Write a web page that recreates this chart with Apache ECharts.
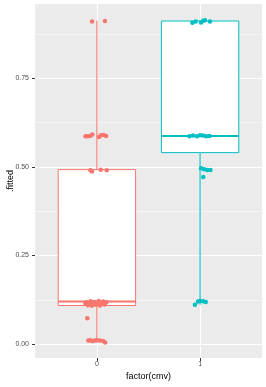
<!DOCTYPE html>
<html>
<head>
<meta charset="utf-8">
<script src="https://cdn.jsdelivr.net/npm/echarts@6/dist/echarts.min.js"></script>
<style>
  html, body { margin: 0; padding: 0; background: #fff; }
  #chart { width: 266px; height: 387px; }
</style>
</head>
<body>
<div id="chart"></div>
<script>
// groups of factor(cmv)
var categories = ['0', '1'];
var colors = ['#F8766D', '#00BFC4'];

// box stats: [lower whisker, Q1, median, Q3, upper whisker]
var boxStats = [
  [0.005, 0.109, 0.120, 0.492, 0.912],
  [0.111, 0.540, 0.587, 0.911, 0.913]
];

// jittered points: [x offset from group, .fitted]
var points0 = [
  [-0.047, 0.910], [0.078, 0.911],
  [-0.110, 0.586], [-0.090, 0.586], [-0.065, 0.587], [-0.045, 0.591],
  [0.020, 0.584], [0.040, 0.589], [0.065, 0.590], [0.090, 0.587],
  [-0.062, 0.490], [-0.048, 0.487], [0.037, 0.492], [0.095, 0.490],
  [-0.112, 0.114], [-0.100, 0.118], [-0.088, 0.110], [-0.075, 0.116],
  [-0.062, 0.121], [-0.050, 0.108], [-0.038, 0.113], [-0.025, 0.119],
  [-0.010, 0.111], [0.005, 0.117], [0.018, 0.122], [0.030, 0.109],
  [0.045, 0.115], [0.060, 0.120], [0.075, 0.112], [0.092, 0.118],
  [-0.093, 0.073],
  [-0.083, 0.010], [-0.065, 0.011], [-0.045, 0.009], [-0.020, 0.010],
  [0.000, 0.011], [0.030, 0.010], [0.060, 0.009], [0.080, 0.005]
];
var points1 = [
  [-0.075, 0.906], [-0.043, 0.910], [0.009, 0.907], [0.030, 0.912],
  [0.047, 0.913], [0.096, 0.910],
  [-0.103, 0.586], [-0.069, 0.588], [-0.030, 0.586], [0.000, 0.589],
  [0.028, 0.588], [0.057, 0.586], [0.091, 0.587],
  [0.010, 0.496], [0.040, 0.493], [0.070, 0.491], [0.100, 0.491],
  [0.031, 0.471],
  [-0.020, 0.120], [0.000, 0.122], [0.030, 0.121], [0.055, 0.119],
  [-0.050, 0.111]
];

var yTicks = [0, 0.25, 0.5, 0.75];
var yMinor = [0.125, 0.375, 0.625, 0.875];
var xTicks = [0, 1];

var chart = echarts.init(document.getElementById('chart'));

var boxData = boxStats.map(function (s, i) { return [i].concat(s); });
function jitter(pts, g) {
  return pts.map(function (p) { return [g + p[0], p[1]]; });
}

function renderBox(params, api) {
  var x = api.value(0);
  var color = colors[x];
  var lo = api.coord([x, api.value(1)]);
  var q1 = api.coord([x, api.value(2)]);
  var med = api.coord([x, api.value(3)]);
  var q3 = api.coord([x, api.value(4)]);
  var hi = api.coord([x, api.value(5)]);
  var half = api.size([0.75, 0])[0] / 2;
  var cx = lo[0];
  var line = { stroke: color, lineWidth: 1.1 };
  return {
    type: 'group',
    children: [
      { type: 'line', shape: { x1: cx, y1: hi[1], x2: cx, y2: q3[1] }, style: line },
      { type: 'line', shape: { x1: cx, y1: q1[1], x2: cx, y2: lo[1] }, style: line },
      { type: 'rect', shape: { x: cx - half, y: q3[1], width: half * 2, height: q1[1] - q3[1] },
        style: { fill: '#fff', stroke: color, lineWidth: 1 } },
      { type: 'line', shape: { x1: cx - half, y1: med[1], x2: cx + half, y2: med[1] },
        style: { stroke: color, lineWidth: 2 } }
    ]
  };
}

var textFont = 'Liberation Sans, Arial, sans-serif';

chart.setOption({
  animation: false,
  grid: {
    left: 35, right: 4, top: 4, bottom: 29,
    outerBoundsMode: 'none', containLabel: false,
    show: true, backgroundColor: '#EBEBEB', borderWidth: 0
  },
  xAxis: {
    type: 'value', min: -0.6, max: 1.6,
    name: 'factor(cmv)', nameLocation: 'middle', nameGap: 14, nameMoveOverlap: false,
    nameTextStyle: { color: '#000', fontSize: 9, fontFamily: textFont, verticalAlign: 'top' },
    axisLine: { show: false, onZero: false },
    axisTick: { show: true, length: 3, customValues: xTicks, lineStyle: { color: '#333' } },
    axisLabel: {
      customValues: xTicks, margin: 3, color: '#4D4D4D', fontSize: 7, fontFamily: textFont,
      formatter: function (v) { return categories[Math.round(v)]; }
    },
    splitLine: { show: true, lineStyle: { color: '#fff', width: 1 } }
  },
  yAxis: [{
    type: 'value', min: -0.039, max: 0.959,
    name: '.fitted', nameLocation: 'middle', nameGap: 20, nameMoveOverlap: false,
    nameTextStyle: { color: '#000', fontSize: 9, fontFamily: textFont },
    axisLine: { show: false, onZero: false },
    axisTick: { show: true, length: 3, customValues: yTicks, lineStyle: { color: '#333' } },
    axisLabel: {
      customValues: yTicks, margin: 6, color: '#4D4D4D', fontSize: 7, fontFamily: textFont,
      formatter: function (v) { return v.toFixed(2); }
    },
    splitLine: { show: true, lineStyle: { color: '#fff', width: 1 } }
  }, {
    type: 'value', min: -0.039, max: 0.959, position: 'left',
    axisLine: { show: false, onZero: false },
    axisTick: { show: false, customValues: yMinor },
    axisLabel: { show: false, customValues: yMinor },
    splitLine: { show: true, lineStyle: { color: '#F5F5F5', width: 1 } }
  }],
  series: [{
    type: 'custom',
    renderItem: renderBox,
    data: boxData,
    encode: { x: 0, y: [1, 2, 3, 4, 5] },
    z: 2
  }, {
    type: 'scatter',
    data: jitter(points0, 0),
    symbolSize: 4.5,
    itemStyle: { color: colors[0], opacity: 1 },
    z: 3
  }, {
    type: 'scatter',
    data: jitter(points1, 1),
    symbolSize: 4.5,
    itemStyle: { color: colors[1], opacity: 1 },
    z: 3
  }]
});
</script>
</body>
</html>
